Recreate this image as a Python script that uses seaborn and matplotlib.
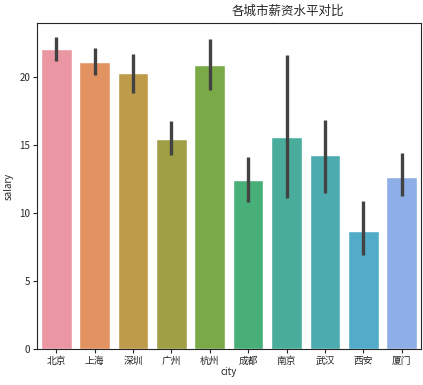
import matplotlib
matplotlib.use("Agg")
import matplotlib.pyplot as plt
import seaborn as sns
import pandas as pd

# mean salary per city with the CI ends
cities = ['北京', '上海', '深圳', '广州', '杭州', '成都', '南京', '武汉', '西安', '厦门']
salary = [22.1, 21.15, 20.3, 15.5, 20.95, 12.45, 15.6, 14.3, 8.7, 12.65]
ci_low = [21.2, 20.15, 18.85, 14.25, 19.1, 10.8, 11.15, 11.5, 6.9, 11.25]
ci_high = [23.0, 22.15, 21.75, 16.8, 22.8, 14.15, 21.65, 16.9, 10.9, 14.45]

sns.set_style('ticks')
plt.rcParams['font.family'] = ['Noto Sans CJK SC', 'DejaVu Sans']

df = pd.DataFrame({'city': cities, 'salary': salary})

# the reference colours only run from pink to periwinkle
colors = sns.husl_palette(13, l=.7)[:len(cities)]

fig = plt.figure(figsize=(4.23, 3.85), dpi=100)
ax = fig.add_axes([0.0875, 0.0935, 0.9075, 0.8465])

sns.barplot(data=df, x='city', y='salary', hue='city', legend=False,
            palette=colors, saturation=.75, errorbar=None, ax=ax)
ax.vlines(range(len(cities)), ci_low, ci_high, color='.26', lw=2.4)

ax.set_xlim(-0.5, len(cities) - 0.5)
ax.set_ylim(0, 24.0)
ax.set_title('各城市薪资水平对比', fontsize=9, x=0.654)
ax.set_xlabel('city', fontsize=7, labelpad=1)
ax.set_ylabel('salary', fontsize=7)
ax.tick_params(labelsize=7, length=3, pad=2)

fig.savefig('out.png', dpi=100)
